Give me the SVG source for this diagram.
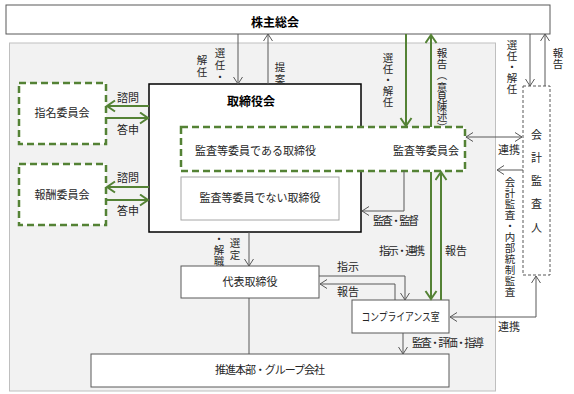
<svg xmlns="http://www.w3.org/2000/svg" width="574" height="394" viewBox="0 0 574 394">
<defs>
<style>
text{font-family:"Noto Sans CJK JP","Noto Sans",sans-serif;font-size:11px;fill:#262626}
.t{text-anchor:middle}
.b{font-weight:bold;font-size:12px;fill:#000}
.v{text-anchor:middle;font-size:10.5px}
.box{fill:#fff;stroke:#595959;stroke-width:1}
.gd{fill:#fff;stroke:#548235;stroke-width:2.5;stroke-dasharray:7 4}
.ln{fill:none;stroke:#595959;stroke-width:1}
.gl{fill:none;stroke:#548235;stroke-width:2}
</style>
<marker id="ag" markerUnits="userSpaceOnUse" markerWidth="12" markerHeight="12" refX="8" refY="5" orient="auto-start-reverse">
<path d="M1,0.5 L8,5 L1,9.5" fill="none" stroke="#595959" stroke-width="1"/>
</marker>
<marker id="agr" markerUnits="userSpaceOnUse" markerWidth="14" markerHeight="14" refX="9" refY="6.5" orient="auto-start-reverse">
<path d="M1,1 L9,6.5 L1,12" fill="none" stroke="#548235" stroke-width="2"/>
</marker>
</defs>

<rect x="9.5" y="43" width="486" height="348" fill="#f2f2f2" stroke="#bfbfbf" stroke-width="1"/>

<g id="shareholders">
<rect class="box" x="6" y="5" width="544" height="29"/>
<text class="t b" x="275" y="27">株主総会</text>
</g>

<g id="board">
<rect x="149" y="84" width="212" height="148" fill="#fff" stroke="#000" stroke-width="1.5"/>
<text class="t b" x="251" y="106">取締役会</text>
</g>

<g id="audit-committee">
<rect class="gd" x="181" y="127" width="284" height="44"/>
<text x="195" y="155">監査等委員である取締役</text>
<text class="t" x="426" y="155">監査等委員会</text>
</g>

<g id="non-audit-directors">
<rect x="181" y="177" width="158" height="43" fill="#fff" stroke="#a6a6a6" stroke-width="1"/>
<text class="t" x="260" y="202">監査等委員でない取締役</text>
</g>

<g id="nomination">
<rect class="gd" x="19" y="83" width="87" height="61"/>
<text class="t" x="62" y="117">指名委員会</text>
</g>

<g id="remuneration">
<rect class="gd" x="19" y="164" width="87" height="61"/>
<text class="t" x="62" y="199">報酬委員会</text>
</g>

<g id="auditor">
<rect x="523" y="86" width="27" height="189" fill="#fff" stroke="#595959" stroke-width="1" stroke-dasharray="3 2"/>
<text class="t"><tspan x="536.5" y="139">会</tspan><tspan x="536.5" y="162">計</tspan><tspan x="536.5" y="185">監</tspan><tspan x="536.5" y="208">査</tspan><tspan x="536.5" y="232">人</tspan></text>
</g>

<g id="representative">
<rect class="box" x="181" y="266" width="138" height="32"/>
<text class="t" x="250" y="286">代表取締役</text>
</g>

<g id="compliance">
<rect class="box" x="352" y="300" width="97" height="33"/>
<text class="t" x="400.5" y="321" textLength="78" lengthAdjust="spacingAndGlyphs">コンプライアンス室</text>
</g>

<g id="group">
<rect class="box" x="91" y="354" width="358" height="33"/>
<text class="t" x="270" y="374" textLength="110" lengthAdjust="spacing">推進本部・グループ会社</text>
</g>

<g id="connectors">
<line class="ln" x1="238" y1="34" x2="238" y2="84" marker-end="url(#ag)"/>
<line class="ln" x1="268" y1="84" x2="268" y2="34" marker-end="url(#ag)"/>
<line class="ln" x1="530" y1="34" x2="530" y2="86" marker-end="url(#ag)"/>
<line class="ln" x1="545" y1="86" x2="545" y2="34" marker-end="url(#ag)"/>
<line class="ln" x1="466" y1="137" x2="522" y2="137" marker-start="url(#ag)" marker-end="url(#ag)"/>
<line class="ln" x1="523" y1="170" x2="497" y2="170" marker-end="url(#ag)"/>
<path class="ln" d="M536,276 V317 H450" marker-start="url(#ag)" marker-end="url(#ag)"/>
<path class="ln" d="M404,171 V211 H362" marker-end="url(#ag)"/>
<line class="ln" x1="249" y1="232" x2="249" y2="266" marker-end="url(#ag)"/>
<line class="ln" x1="249" y1="298" x2="249" y2="354"/>
<path class="ln" d="M319,276 H405 V300" marker-end="url(#ag)"/>
<path class="ln" d="M395,300 V284 H320" marker-end="url(#ag)"/>
<line class="ln" x1="403" y1="333" x2="403" y2="354" marker-end="url(#ag)"/>

<line class="gl" x1="406" y1="34" x2="406" y2="126" marker-end="url(#agr)"/>
<line class="gl" x1="431" y1="127" x2="431" y2="35" marker-end="url(#agr)"/>
<line class="gl" x1="431" y1="172" x2="431" y2="299" marker-end="url(#agr)"/>
<line class="gl" x1="441" y1="300" x2="441" y2="172" marker-end="url(#agr)"/>
<line class="gl" x1="149" y1="106" x2="107" y2="106" marker-end="url(#agr)"/>
<line class="gl" x1="106" y1="118" x2="148" y2="118" marker-end="url(#agr)"/>
<line class="gl" x1="149" y1="187" x2="107" y2="187" marker-end="url(#agr)"/>
<line class="gl" x1="106" y1="200" x2="148" y2="200" marker-end="url(#agr)"/>

<text class="v"><tspan x="220" y="57">選</tspan><tspan x="220" y="69">任</tspan><tspan x="220" y="81">・</tspan></text>
<text class="v"><tspan x="202" y="64">解</tspan><tspan x="202" y="76">任</tspan></text>
<text class="v"><tspan x="280" y="71">提</tspan><tspan x="280" y="83">案</tspan></text>
<text class="v"><tspan x="388" y="62">選</tspan><tspan x="388" y="73">任</tspan><tspan x="388" y="84">・</tspan><tspan x="388" y="95">解</tspan><tspan x="388" y="106">任</tspan></text>
<text class="v"><tspan x="442" y="57">報</tspan><tspan x="442" y="68">告</tspan><tspan x="443" y="70" rotate="90">（</tspan><tspan x="442" y="91">意</tspan><tspan x="442" y="101">見</tspan><tspan x="442" y="111">陳</tspan><tspan x="442" y="121">述</tspan><tspan x="443" y="122" rotate="90">）</tspan></text>
<text class="v"><tspan x="512" y="49">選</tspan><tspan x="512" y="60">任</tspan><tspan x="512" y="71">・</tspan><tspan x="512" y="82">解</tspan><tspan x="512" y="93">任</tspan></text>
<text class="v"><tspan x="558" y="57">報</tspan><tspan x="558" y="68">告</tspan></text>
<text class="v"><tspan x="235" y="247">選</tspan><tspan x="235" y="259">定</tspan></text>
<text class="v"><tspan x="219" y="243">・</tspan><tspan x="219" y="254">解</tspan><tspan x="219" y="265">職</tspan></text>
<text class="v"><tspan x="510" y="186">会</tspan><tspan x="510" y="197">計</tspan><tspan x="510" y="208">監</tspan><tspan x="510" y="219">査</tspan><tspan x="510" y="230">・</tspan><tspan x="510" y="241">内</tspan><tspan x="510" y="252">部</tspan><tspan x="510" y="263">統</tspan><tspan x="510" y="274">制</tspan><tspan x="510" y="285">監</tspan><tspan x="510" y="296">査</tspan></text>

<text class="t" x="128" y="102">諮問</text>
<text class="t" x="128" y="134">答申</text>
<text class="t" x="128" y="182">諮問</text>
<text class="t" x="128" y="215">答申</text>
<text class="t" x="509" y="154">連携</text>
<text class="t" x="509" y="331">連携</text>
<text class="t" x="396" y="225" textLength="46" lengthAdjust="spacing">監査・監督</text>
<text class="t" x="402" y="255" textLength="46" lengthAdjust="spacing">指示・連携</text>
<text class="t" x="456" y="255">報告</text>
<text class="t" x="348" y="271">指示</text>
<text class="t" x="348" y="296">報告</text>
<text x="412" y="347" textLength="72" lengthAdjust="spacing">監査・評価・指導</text>
</g>
</svg>
